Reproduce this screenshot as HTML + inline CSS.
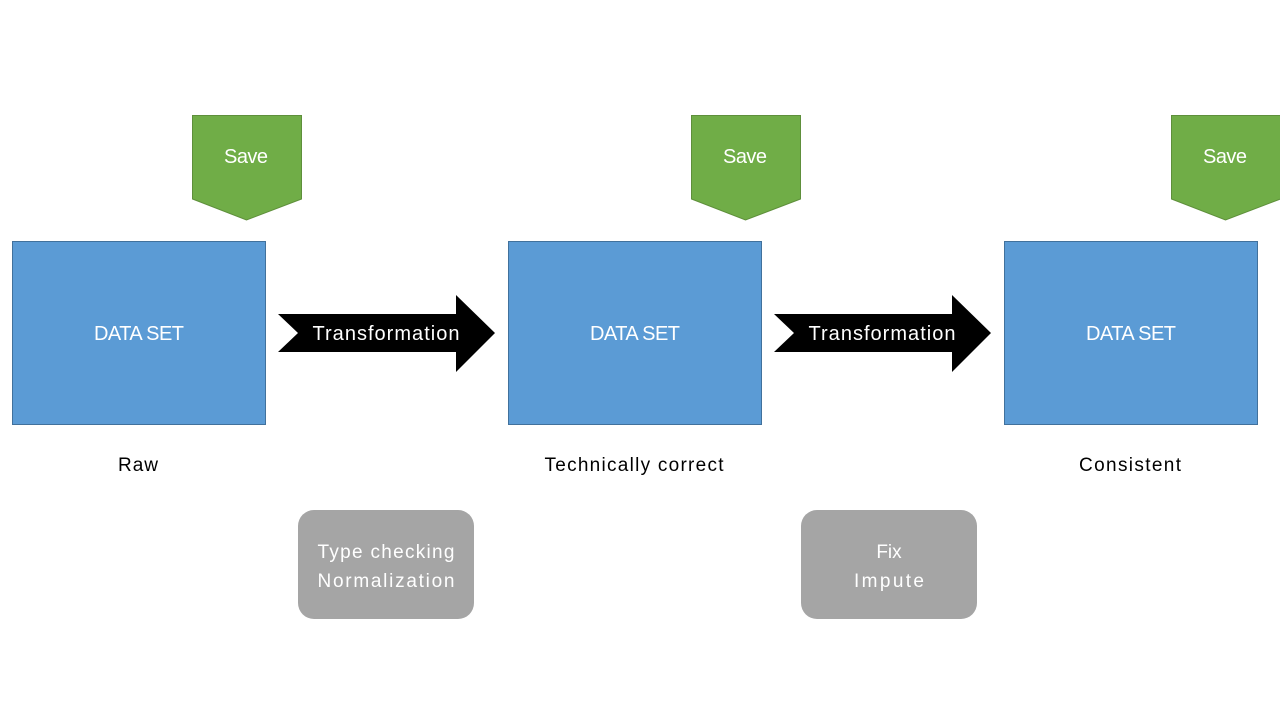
<!DOCTYPE html>
<html><head><style>
body{margin:0;width:1280px;height:720px;background:#fff;overflow:hidden}
svg text{font-family:"Liberation Sans",sans-serif}
</style></head><body>
<svg width="1280" height="720" viewBox="0 0 1280 720">
<g fill="#70ad47" stroke="#5e8f3b" stroke-width="1">
<polygon points="192.5,115.5 301.5,115.5 301.5,199 246.5,220 192.5,199"/>
<polygon points="691.5,115.5 800.5,115.5 800.5,199 745.5,220 691.5,199"/>
<polygon points="1171.5,115.5 1280.5,115.5 1280.5,199 1225.5,220 1171.5,199"/>
</g>
<g fill="#fff" font-size="20" text-anchor="middle">
<text x="246" y="163" textLength="44">Save</text>
<text x="745" y="163" textLength="44">Save</text>
<text x="1225" y="163" textLength="44">Save</text>
</g>
<g fill="#5b9bd5" stroke="#41719c" stroke-width="1">
<rect x="12.5" y="241.5" width="253" height="183"/>
<rect x="508.5" y="241.5" width="253" height="183"/>
<rect x="1004.5" y="241.5" width="253" height="183"/>
</g>
<g fill="#fff" font-size="20" text-anchor="middle">
<text x="139" y="340" textLength="90">DATA SET</text>
<text x="635" y="340" textLength="90">DATA SET</text>
<text x="1131" y="340" textLength="90">DATA SET</text>
</g>
<g fill="#000">
<polygon points="278,314 456,314 456,295 495,333 456,372 456,352 278,352 298,333"/>
<polygon points="774,314 952,314 952,295 991,333 952,372 952,352 774,352 794,333"/>
</g>
<g fill="#fff" font-size="20" text-anchor="middle">
<text x="386" y="340" textLength="147">Transformation</text>
<text x="882" y="340" textLength="147">Transformation</text>
</g>
<g fill="#000" font-size="19" text-anchor="middle">
<text x="138" y="471" textLength="40">Raw</text>
<text x="634" y="471" textLength="179">Technically correct</text>
<text x="1130" y="471" textLength="102">Consistent</text>
</g>
<g fill="#a5a5a5">
<rect x="298" y="510" width="176" height="109" rx="16"/>
<rect x="801" y="510" width="176" height="109" rx="16"/>
</g>
<g fill="#fff" font-size="19" text-anchor="middle">
<text x="386" y="558" textLength="137">Type checking</text>
<text x="386" y="587" textLength="137">Normalization</text>
<text x="889" y="558">Fix</text>
<text x="889" y="587" textLength="70">Impute</text>
</g>
</svg>
</body></html>
